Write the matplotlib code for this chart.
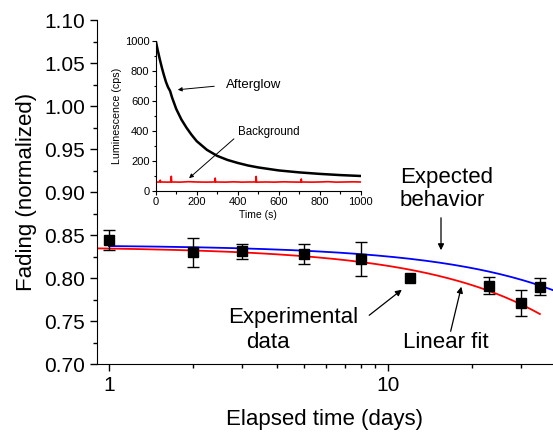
import numpy as np
import matplotlib
matplotlib.use("Agg")
import matplotlib.pyplot as plt
from matplotlib.ticker import MultipleLocator, FixedLocator, NullFormatter

plt.rcParams['font.family'] = ['Liberation Sans', 'DejaVu Sans']

# main data: fading vs elapsed time
days = [1, 2, 3, 5, 8, 12, 23, 30, 35]
fading = [0.844, 0.830, 0.831, 0.828, 0.822, 0.800, 0.791, 0.771, 0.790]
fading_err = [0.012, 0.017, 0.009, 0.012, 0.020, 0.0, 0.010, 0.015, 0.010]

# straight lines in time (drawn on log axis)
fit_intercept, fit_slope = 0.8365, -0.00224      # linear fit (red)
exp_intercept, exp_slope = 0.8385, -0.00135      # expected behavior (blue)
fit_range = (0.9, 35)
exp_range = (1, 40)

# inset: afterglow and background
glow_t = [0, 10, 20, 30, 40, 50, 60, 70, 80, 100, 125, 150, 175, 200, 250,
          300, 350, 400, 450, 500, 600, 700, 800, 900, 1000]
glow_v = [1000, 935, 875, 820, 770, 725, 690, 665, 620, 545, 475, 420, 372,
          330, 272, 232, 205, 185, 168, 155, 135, 122, 112, 104, 98]
bg_t = [0, 1, 20, 22, 24, 60, 74, 76, 78, 120, 160, 200, 240, 288, 290, 292,
        340, 380, 420, 460, 488, 490, 492, 540, 580, 620, 660, 708, 710, 712,
        760, 800, 840, 880, 920, 960, 1000]
bg_v = [0, 57, 58, 70, 58, 57, 58, 96, 58, 57, 60, 58, 57, 58, 84, 58,
        57, 59, 57, 58, 58, 95, 57, 58, 57, 59, 58, 57, 78, 58,
        57, 58, 60, 57, 58, 59, 58]

fig = plt.figure(figsize=(5.53, 4.32), dpi=100)
ax = fig.add_axes([0.1754, 0.1574, 0.8246, 0.7963])

t = np.geomspace(*fit_range, 200)
ax.plot(t, fit_intercept + fit_slope * t, color='red', lw=1.3, zorder=2)
t = np.geomspace(*exp_range, 200)
ax.plot(t, exp_intercept + exp_slope * t, color='blue', lw=1.3, zorder=2)

err = [e if e > 0 else np.nan for e in fading_err]
ax.errorbar(days, fading, yerr=err, fmt='s', color='black', ms=6.5,
            ecolor='black', elinewidth=1, capsize=4, capthick=1, zorder=3)

ax.set_xscale('log')
ax.set_xlim(0.906, 39.0)
ax.set_ylim(0.70, 1.10)
ax.xaxis.set_major_locator(FixedLocator([1, 10]))
ax.xaxis.set_minor_locator(FixedLocator([2, 3, 4, 5, 6, 7, 8, 9, 20, 30]))
ax.xaxis.set_minor_formatter(NullFormatter())
ax.set_xticklabels(['1', '10'])
ax.yaxis.set_major_locator(MultipleLocator(0.05))
ax.yaxis.set_minor_locator(MultipleLocator(0.025))
ax.yaxis.set_major_formatter(plt.FormatStrFormatter('%.2f'))
ax.tick_params(which='major', direction='out', length=5, width=1, labelsize=15)
ax.tick_params(which='minor', direction='out', length=3, width=1)
for s in ['top', 'right']:
    ax.spines[s].set_visible(False)
ax.set_xlabel('Elapsed time (days)', fontsize=16, labelpad=10)
ax.set_ylabel('Fading (normalized)', fontsize=16, labelpad=5)

# annotations in pixel coords of the figure (0..553, 0..432 from top)
def fpos(x, y):
    return (x / 553.0, 1 - y / 432.0)

arrow = dict(arrowstyle='-|>', color='black', lw=0.9, mutation_scale=9)
ax.annotate('', xy=fpos(441, 253), xytext=fpos(441, 215),
            xycoords='figure fraction', arrowprops=arrow)
fig.text(*fpos(400, 177), 'Expected', fontsize=16, va='center', ha='left')
fig.text(*fpos(400, 201), 'behavior', fontsize=16, va='center', ha='left')
ax.annotate('', xy=fpos(404, 288), xytext=fpos(367, 317),
            xycoords='figure fraction', arrowprops=arrow)
fig.text(*fpos(228, 318), 'Experimental', fontsize=16, va='center', ha='left')
fig.text(*fpos(246, 343), 'data', fontsize=16, va='center', ha='left')
ax.annotate('', xy=fpos(462, 284), xytext=fpos(450, 334),
            xycoords='figure fraction', arrowprops=arrow)
fig.text(*fpos(403, 343), 'Linear fit', fontsize=16, va='center', ha='left')

# inset
ins = fig.add_axes([0.2816, 0.5586, 0.3707, 0.3472])
ins.plot(glow_t, glow_v, color='black', lw=1.8)
ins.plot(bg_t, bg_v, color='red', lw=1.2)
ins.set_xlim(0, 1000)
ins.set_ylim(0, 1000)
ins.xaxis.set_major_locator(MultipleLocator(200))
ins.xaxis.set_minor_locator(MultipleLocator(100))
ins.yaxis.set_major_locator(MultipleLocator(200))
ins.yaxis.set_minor_locator(MultipleLocator(100))
ins.tick_params(which='major', direction='out', length=3, width=0.8,
                labelsize=8, pad=1.5)
ins.tick_params(which='minor', direction='out', length=1.8, width=0.8)
for s in ['top', 'right']:
    ins.spines[s].set_visible(False)
ins.set_xlabel('Time (s)', fontsize=7.5, labelpad=2)
ins.set_ylabel('Luminescence (cps)', fontsize=7.7, labelpad=2)
ins.patch.set_alpha(0)

arrow_s = dict(arrowstyle='-|>', color='black', lw=0.7, mutation_scale=6)
ax.annotate('', xy=fpos(175, 90), xytext=fpos(217, 86),
            xycoords='figure fraction', arrowprops=arrow_s)
fig.text(*fpos(226, 85), 'Afterglow', fontsize=9.5, va='center', ha='left')
ax.annotate('', xy=fpos(187, 180), xytext=fpos(236, 137),
            xycoords='figure fraction', arrowprops=arrow_s)
fig.text(*fpos(238, 132), 'Background', fontsize=8.3, va='center', ha='left')

fig.savefig('out.png', dpi=100)
